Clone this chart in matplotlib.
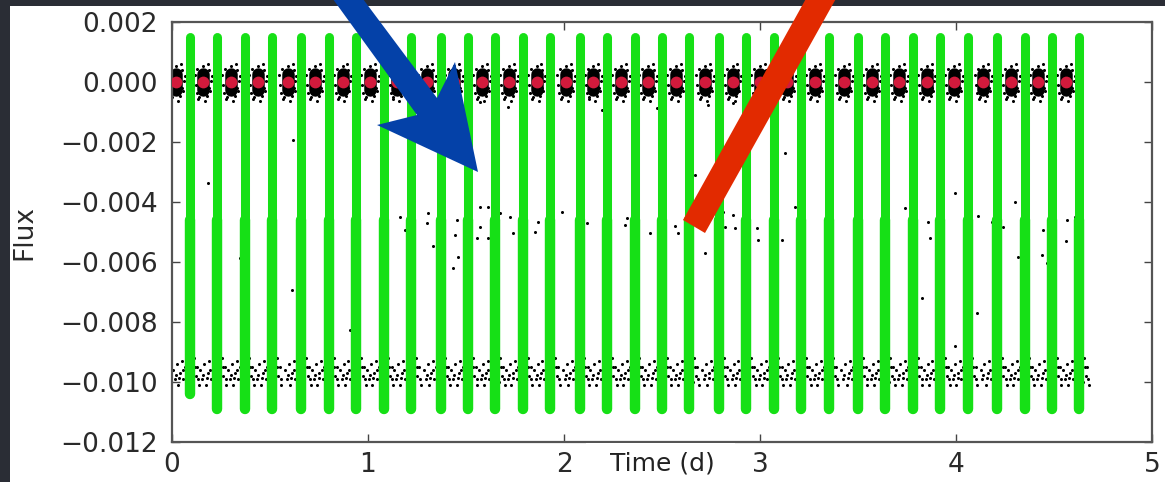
import matplotlib
matplotlib.use("Agg")
import matplotlib.pyplot as plt
from matplotlib.patches import Polygon, Rectangle
from matplotlib.ticker import FuncFormatter
from matplotlib.transforms import Affine2D

# --- data ------------------------------------------------------------------
# transit times (green columns)
green_t = [0.09, 0.23, 0.37, 0.51, 0.66, 0.80, 0.94, 1.08, 1.22, 1.37, 1.51,
           1.65, 1.79, 1.93, 2.08, 2.22, 2.36, 2.50, 2.64, 2.79, 2.93, 3.07,
           3.21, 3.35, 3.50, 3.64, 3.78, 3.92, 4.06, 4.21, 4.35, 4.49, 4.63]
green_top = [0.0015] * 33
green_mid = [-0.0046] * 33
green_bot = [-0.0104] + [-0.0109] * 32

# binned out-of-transit points (red)
red_t = [0.02, 0.16, 0.30, 0.44, 0.59, 0.73, 0.87, 1.01, 1.15, 1.30, 1.44,
         1.58, 1.72, 1.86, 2.01, 2.15, 2.29, 2.43, 2.57, 2.72, 2.86, 3.00,
         3.14, 3.28, 3.43, 3.57, 3.71, 3.85, 3.99, 4.14, 4.28, 4.42, 4.56]
red_f = [0.0] * 33

# scatter of raw points around each red dot (offsets, days / flux)
cluster_dt = [-0.045, -0.035, -0.03, -0.02, 0.00, 0.02, 0.03, 0.035, 0.045,
              -0.025, 0.025, -0.04, 0.04, 0.01, -0.01, 0.03]
cluster_df = [0.00025, -0.00035, 0.00045, -0.0005, 0.00055, -0.00045,
              0.0004, -0.0003, 0.0002, -0.00055, 0.0006, -0.0001, 0.00005,
              -0.00062, 0.00035, -0.0002]

# raw points in the deep band (offsets inside one period)
band_dt = [-0.015, -0.005, 0.005, 0.012, 0.022, 0.030, 0.038, 0.047, 0.055,
           0.063, 0.070, 0.078, 0.086, 0.094, 0.102, 0.110, 0.118,
           0.000, 0.018, 0.034, 0.050, 0.066, 0.082, 0.098, 0.114]
band_f = [-0.0096, -0.0099, -0.0094, -0.0101, -0.0097, -0.0093, -0.0099,
          -0.0095, -0.0102, -0.0098, -0.0094, -0.0097, -0.0100, -0.0092,
          -0.0098, -0.0095, -0.0101,
          -0.00975, -0.00985, -0.00960, -0.0099, -0.0096, -0.00985,
          -0.00950, -0.0099]

# sparse points between the two levels
mid_t = [1.571, 1.714, 2.194, 2.474, 2.735, 2.862, 3.128, 2.668, 1.163,
         1.306, 1.189, 1.301, 1.454, 1.571, 1.612, 1.673, 1.724, 1.571,
         1.444, 1.332, 1.556, 1.612, 1.740, 1.852, 1.867, 1.990, 2.117,
         2.321, 2.311, 2.439, 2.566, 2.582, 2.617, 2.719, 2.811, 2.862,
         2.821, 2.872, 2.985, 2.990, 3.112, 3.179, 1.459, 1.434,
         3.740, 3.857, 3.867, 3.995, 3.827, 4.112, 4.184, 4.240, 4.301,
         4.316, 4.444, 4.439, 4.464, 4.566, 4.561, 4.607, 4.107, 3.995,
         0.617, 0.184, 0.347, 0.612, 0.908]
mid_f = [-0.00067, -0.00083, -0.00093, -0.00087, -0.00077, -0.00070,
         -0.00237, -0.00310, -0.00450, -0.00437, -0.00493, -0.00470,
         -0.00460, -0.00417, -0.00417, -0.00437, -0.00450, -0.00483,
         -0.00510, -0.00547, -0.00520, -0.00520, -0.00503, -0.00500,
         -0.00467, -0.00433, -0.00470, -0.00453, -0.00477, -0.00503,
         -0.00480, -0.00503, -0.00553, -0.00570, -0.00433, -0.00443,
         -0.00483, -0.00487, -0.00487, -0.00527, -0.00527, -0.00417,
         -0.00583, -0.00620,
         -0.00420, -0.00467, -0.00520, -0.00370, -0.00720, -0.00447,
         -0.00467, -0.00483, -0.00400, -0.00583, -0.00493, -0.00577,
         -0.00603, -0.00460, -0.00530, -0.00450, -0.00770, -0.00880,
         -0.00193, -0.00337, -0.00587, -0.00693, -0.00827]

x_ticks = [0, 1, 2, 3, 4, 5]
y_ticks = [0.002, 0.000, -0.002, -0.004, -0.006, -0.008, -0.010, -0.012]

# --- figure -----------------------------------------------------------------
W, H = 1165, 482
fig = plt.figure(figsize=(W / 100, H / 100), dpi=100)
fig.patch.set_facecolor("#2a2d35")

# pixel coords (y down) -> figure
px = Affine2D().scale(1 / W, -1 / H).translate(0, 1) + fig.transFigure

# white slide picture behind the plot
fig.patches.append(Rectangle((10, 6), W - 10, H - 6, transform=px,
                             facecolor="white", edgecolor="none", zorder=-1))

ax = fig.add_axes([172 / W, 40 / H, 980 / W, 420 / H])
ax.set_xlim(0, 5)
ax.set_ylim(-0.012, 0.002)

green = "#16e016"
ax.vlines(green_t, green_mid, green_top, color=green, linewidth=6.5,
          capstyle="round", zorder=3)
ax.vlines(green_t, green_bot, green_mid, color=green, linewidth=7.5,
          capstyle="round", zorder=3)

# raw points: clusters near zero, deep band, sparse points
for t0 in red_t:
    ax.plot([t0 + d for d in cluster_dt], cluster_df, "o", color="black",
            markersize=2.2, markeredgewidth=0, zorder=2)
    ax.plot([t0 + d for d in band_dt], band_f, "o", color="black",
            markersize=2.2, markeredgewidth=0, zorder=2)
ax.vlines(red_t, [-0.00028] * len(red_t), [0.00026] * len(red_t),
          color="black", linewidth=9, capstyle="round", zorder=2)
ax.plot(mid_t, mid_f, "o", color="black", markersize=2.2,
        markeredgewidth=0, zorder=2)

ax.plot(red_t, red_f, "o", color="#d21a3c", markersize=8.5,
        markeredgewidth=0, zorder=4)

ax.set_xticks(x_ticks)
ax.set_yticks(y_ticks)
ax.yaxis.set_major_formatter(FuncFormatter(
    lambda v, p: ("%.3f" % (0.0 if abs(v) < 1e-9 else v)).replace("-", "\u2212")))
ax.tick_params(direction="in", top=True, right=True, length=6, width=1,
               color="#444444", labelsize=19, labelcolor="#2a2a2a")
ax.tick_params(axis="y", pad=10)
ax.tick_params(axis="x", pad=7)
for s in ax.spines.values():
    s.set_color("#555555")
    s.set_linewidth(1.6)

ax.set_ylabel("Flux", fontsize=19, color="#2a2a2a")
ax.yaxis.set_label_coords(-0.137, 0.5)

# x-label pasted on a white box that hides part of the bottom spine
fig.patches.append(Rectangle((586, 443), 149, 40, transform=px,
                             facecolor="white", edgecolor="none", zorder=5))
fig.text(662 / W, 1 - 464 / H, "Time (d)", fontsize=18, color="#222222",
         ha="center", va="center", zorder=6)

# slide arrows
blue = [(330, -5), (360, -5), (437, 98), (455, 62), (478, 172),
        (377, 125), (417, 115)]
fig.patches.append(Polygon(blue, closed=True, transform=px,
                           facecolor="#0441a8", edgecolor="none", zorder=7))
red_bar = [(808, -5), (838, -5), (705, 233), (683, 220)]
fig.patches.append(Polygon(red_bar, closed=True, transform=px,
                           facecolor="#e22a00", edgecolor="none", zorder=7))

fig.savefig("out.png", dpi=100, facecolor=fig.get_facecolor())
